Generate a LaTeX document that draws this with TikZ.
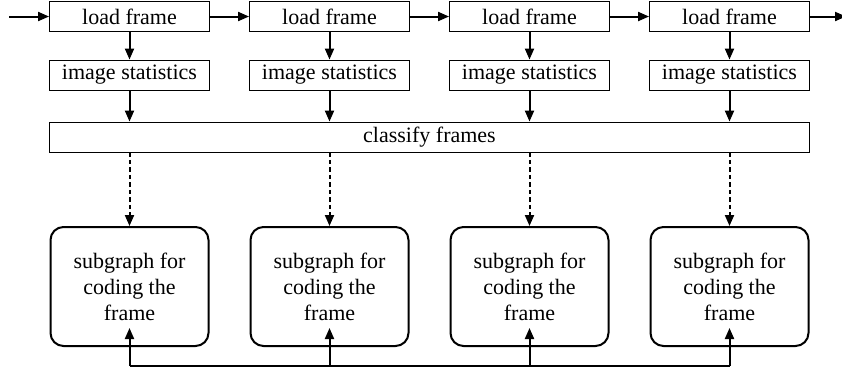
\documentclass[tikz,border=0pt]{standalone}
\usepackage{fontspec}
\setmainfont{Liberation Serif}
\usepackage{tikz}
\usetikzlibrary{arrows.meta,positioning,calc}

\begin{document}
\begin{tikzpicture}[
  x=1pt, y=-1pt,
  stepbox/.style={draw=black, line width=0.9pt, minimum width=160pt, minimum height=30pt, inner sep=0pt, font=\fontsize{22}{26}\selectfont},
  classbox/.style={stepbox, minimum width=760pt},
  subbox/.style={draw=black, line width=2pt, rounded corners=13pt, minimum width=158pt, minimum height=119pt, inner sep=0pt, align=center, font=\fontsize{22}{26}\selectfont},
  flow/.style={-{Triangle[length=11pt, width=9pt]}, draw=black, line width=2pt},
  dashflow/.style={flow, dash pattern=on 4.5pt off 3pt},
  busline/.style={draw=black, line width=2pt}
]
  \useasboundingbox (0,0) rectangle (842,368);

  \node[stepbox] (l1) at (129.5,16.5) {load frame};
  \node[stepbox] (l2) at (329.5,16.5) {load frame};
  \node[stepbox] (l3) at (529.5,16.5) {load frame};
  \node[stepbox] (l4) at (729.5,16.5) {load frame};

  \node[stepbox] (i1) at (129.5,75) {image statistics};
  \node[stepbox] (i2) at (329.5,75) {image statistics};
  \node[stepbox] (i3) at (529.5,75) {image statistics};
  \node[stepbox] (i4) at (729.5,75) {image statistics};

  \node[classbox] (cf) at (429.5,137) {classify frames};

  \node[subbox] (s1) at (129.5,286.5) {subgraph for\\coding the\\frame};
  \node[subbox] (s2) at (329.5,286.5) {subgraph for\\coding the\\frame};
  \node[subbox] (s3) at (529.5,286.5) {subgraph for\\coding the\\frame};
  \node[subbox] (s4) at (729.5,286.5) {subgraph for\\coding the\\frame};

  \coordinate (in) at (9,16.5);
  \coordinate (out) at (846,16.5);
  \coordinate (b1) at (129.5,366);
  \coordinate (b4) at (729.5,366);

  % frame chain
  \draw[flow] (in) -- (l1);
  \draw[flow] (l1) -- (l2);
  \draw[flow] (l2) -- (l3);
  \draw[flow] (l3) -- (l4);
  \draw[flow] (l4) -- (out);

  % statistics per frame
  \draw[flow] (l1) -- (i1);
  \draw[flow] (l2) -- (i2);
  \draw[flow] (l3) -- (i3);
  \draw[flow] (l4) -- (i4);
  \draw[flow] (i1) -- (i1 |- cf.north);
  \draw[flow] (i2) -- (i2 |- cf.north);
  \draw[flow] (i3) -- (i3 |- cf.north);
  \draw[flow] (i4) -- (i4 |- cf.north);

  % classification to subgraphs
  \draw[dashflow] (s1 |- cf.south) -- (s1);
  \draw[dashflow] (s2 |- cf.south) -- (s2);
  \draw[dashflow] (s3 |- cf.south) -- (s3);
  \draw[dashflow] (s4 |- cf.south) -- (s4);

  % shared bus below
  \draw[busline] (b1) -- (b4);
  \draw[flow] (b1) -- ($(s1.south)+(0,-19)$);
  \draw[flow] (s2 |- b1) -- ($(s2.south)+(0,-19)$);
  \draw[flow] (s3 |- b1) -- ($(s3.south)+(0,-19)$);
  \draw[flow] (b4) -- ($(s4.south)+(0,-19)$);
\end{tikzpicture}
\end{document}
